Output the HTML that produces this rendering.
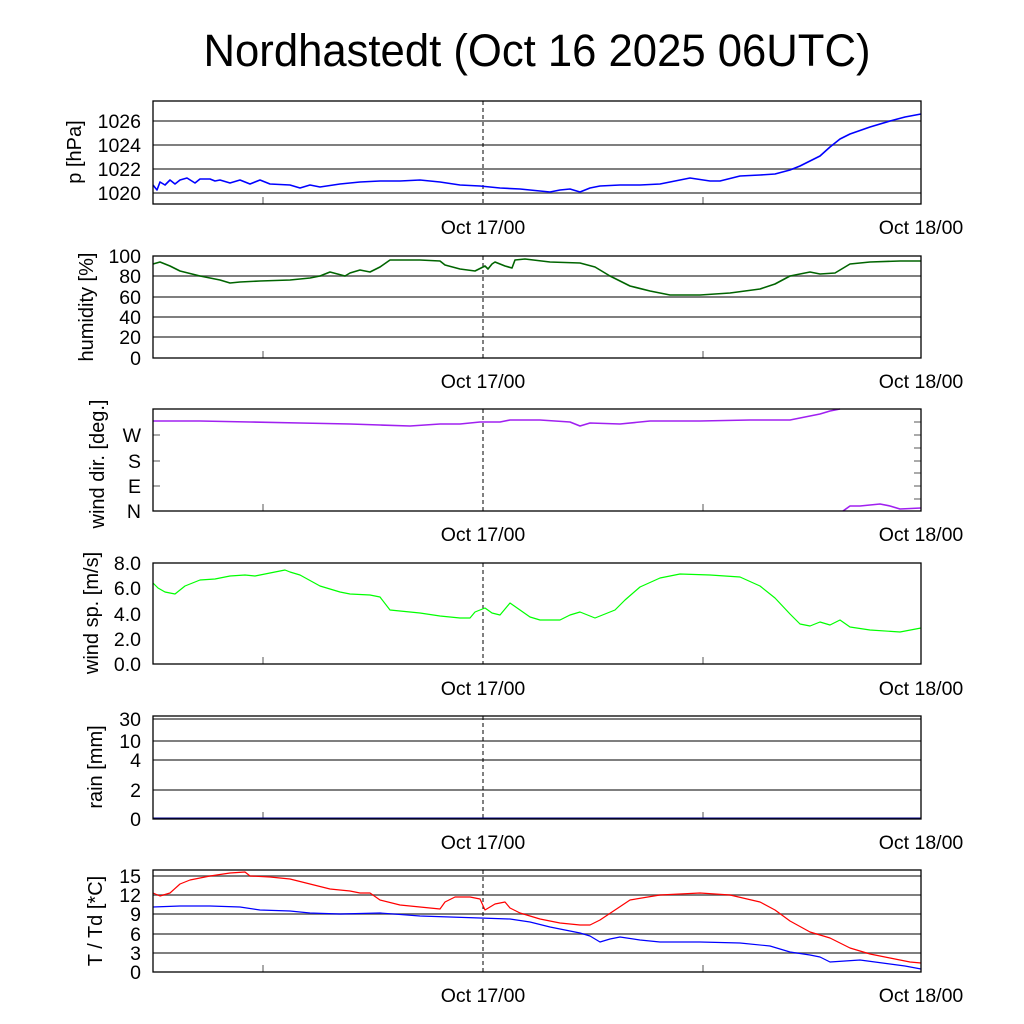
<!DOCTYPE html>
<html><head><meta charset="utf-8"><style>html,body{margin:0;padding:0;background:#fff}svg{display:block}text{font-family:"Liberation Sans",sans-serif;fill:#000}</style></head><body>
<svg width="1024" height="1024" viewBox="0 0 1024 1024" xmlns="http://www.w3.org/2000/svg">
<rect width="1024" height="1024" fill="#fff"/>
<text x="537" y="66" font-size="45" text-anchor="middle" textLength="667" lengthAdjust="spacingAndGlyphs">Nordhastedt (Oct 16 2025 06UTC)</text>

<g stroke="#555" stroke-width="1.5">
<line x1="153" x2="921" y1="121" y2="121"/><line x1="153" x2="921" y1="145" y2="145"/><line x1="153" x2="921" y1="169" y2="169"/><line x1="153" x2="921" y1="193" y2="193"/>
<line x1="153" x2="921" y1="276" y2="276"/><line x1="153" x2="921" y1="297" y2="297"/><line x1="153" x2="921" y1="317" y2="317"/><line x1="153" x2="921" y1="337" y2="337"/>
<line x1="153" x2="921" y1="719" y2="719"/><line x1="153" x2="921" y1="741" y2="741"/><line x1="153" x2="921" y1="760" y2="760"/><line x1="153" x2="921" y1="790" y2="790"/>
<line x1="153" x2="921" y1="876" y2="876"/><line x1="153" x2="921" y1="895" y2="895"/><line x1="153" x2="921" y1="914" y2="914"/><line x1="153" x2="921" y1="934" y2="934"/><line x1="153" x2="921" y1="953" y2="953"/>
</g>
<g stroke="#000" stroke-width="1" stroke-dasharray="4,3">
<line x1="483" x2="483" y1="101" y2="204"/><line x1="483" x2="483" y1="256" y2="358"/><line x1="483" x2="483" y1="409" y2="511"/><line x1="483" x2="483" y1="563" y2="664"/><line x1="483" x2="483" y1="716" y2="819"/><line x1="483" x2="483" y1="870" y2="972"/>
</g>
<g stroke="#555" stroke-width="1">
<line x1="263" x2="263" y1="197" y2="204"/><line x1="703" x2="703" y1="197" y2="204"/>
<line x1="263" x2="263" y1="351" y2="358"/><line x1="703" x2="703" y1="351" y2="358"/>
<line x1="263" x2="263" y1="504" y2="511"/><line x1="703" x2="703" y1="504" y2="511"/>
<line x1="263" x2="263" y1="657" y2="664"/><line x1="703" x2="703" y1="657" y2="664"/>
<line x1="263" x2="263" y1="812" y2="819"/><line x1="703" x2="703" y1="812" y2="819"/>
<line x1="263" x2="263" y1="965" y2="972"/><line x1="703" x2="703" y1="965" y2="972"/>
<line x1="153" x2="160" y1="435" y2="435"/><line x1="153" x2="160" y1="461" y2="461"/><line x1="153" x2="160" y1="486" y2="486"/>
<line x1="914" x2="921" y1="422" y2="422"/><line x1="914" x2="921" y1="435" y2="435"/><line x1="914" x2="921" y1="448" y2="448"/><line x1="914" x2="921" y1="461" y2="461"/><line x1="914" x2="921" y1="473" y2="473"/><line x1="914" x2="921" y1="486" y2="486"/><line x1="914" x2="921" y1="499" y2="499"/>
</g>

<g fill="none" stroke-width="1.6" stroke-linejoin="round">
<polyline stroke="#0000ff" points="153,185 157,190 160,182 165,185 170,180 175,184 180,180 187,178 195,183 200,179 210,179 215,181 220,180 230,183 240,180 250,184 260,180 270,184 290,185 300,188 310,185 320,187 340,184 360,182 380,181 400,181 420,180 440,182 460,185 480,186 500,188 520,189 540,191 550,192 560,190 570,189 580,192 590,188 600,186 620,185 640,185 660,184 670,182 690,178 710,181 720,181 740,176 760,175 775,174 790,170 800,166 810,161 820,156 830,147 840,139 850,134 870,127 890,121 905,117 921,114"/>
<polyline stroke="#006400" points="153,264 160,262 170,266 180,271 200,276 220,280 230,283 240,282 260,281 290,280 310,278 320,276 330,272 345,276 350,273 360,270 370,272 380,267 390,260 420,260 440,261 445,265 460,269 475,271 485,266 488,269 492,264 495,262 505,266 512,268 515,260 525,259 550,262 580,263 595,267 610,276 630,286 650,291 670,295 700,295 730,293 760,289 775,284 790,276 810,272 820,274 835,273 850,264 870,262 900,261 921,261"/>
<polyline stroke="#a020f0" points="153,421 200,421 250,422 300,423 350,424 380,425 410,426 440,424 460,424 480,422 500,422 510,420 540,420 570,422 580,426 590,423 620,424 650,421 700,421 750,420 790,420 810,416 820,414 830,411 840,409"/>
<polyline stroke="#a020f0" points="843,511 850,506 860,506 870,505 880,504 890,506 900,509 921,508"/>
<polyline stroke="#00ff00" stroke-width="1.2" points="153,583 158,588 165,592 175,594 185,586 200,580 215,579 230,576 245,575 255,576 265,574 275,572 285,570 290,572 300,575 320,586 340,592 350,594 370,595 380,597 390,610 420,613 440,616 460,618 470,618 475,612 485,608 492,613 500,615 510,603 520,610 530,617 540,620 560,620 570,615 580,612 595,618 605,614 615,610 625,600 640,587 660,578 680,574 710,575 740,577 760,586 775,598 790,614 800,624 810,626 820,622 830,625 840,620 850,627 870,630 900,632 921,628"/>
<line x1="153" x2="921" y1="818.5" y2="818.5" stroke="#00008b" stroke-width="2"/>
<polyline stroke="#ff0000" stroke-width="1.2" points="153,893 160,896 170,893 180,884 190,880 210,876 230,873 245,872 250,876 270,877 290,879 310,884 330,889 350,891 360,893 370,893 380,900 400,905 420,907 440,909 445,902 455,897 470,897 480,899 485,910 495,904 505,902 510,908 520,913 540,919 560,923 580,925 590,925 600,920 615,910 630,900 660,895 700,893 730,895 760,902 775,910 790,921 810,932 830,938 850,948 870,954 890,958 910,962 921,963"/>
<polyline stroke="#0000ff" stroke-width="1.2" points="153,907 180,906 210,906 240,907 260,910 290,911 310,913 340,914 380,913 420,916 450,917 480,918 510,919 530,922 550,927 580,933 590,936 600,942 610,939 620,937 640,940 660,942 700,942 740,943 770,946 790,952 810,955 820,957 830,962 845,961 860,960 875,962 890,964 905,966 921,969"/>
</g>

<g fill="none" stroke="#000" stroke-width="1.3">
<rect x="153" y="101" width="768" height="103"/>
<rect x="153" y="256" width="768" height="102"/>
<rect x="153" y="409" width="768" height="102"/>
<rect x="153" y="563" width="768" height="101"/>
<rect x="153" y="716" width="768" height="103"/>
<rect x="153" y="870" width="768" height="102"/>
</g>

<g font-size="19.5" text-anchor="end">
<text x="141" y="128">1026</text><text x="141" y="152">1024</text><text x="141" y="176">1022</text><text x="141" y="200">1020</text>
<text x="141" y="263">100</text><text x="141" y="283">80</text><text x="141" y="304">60</text><text x="141" y="324">40</text><text x="141" y="344">20</text><text x="141" y="365">0</text>
<text x="141" y="442">W</text><text x="141" y="468">S</text><text x="141" y="493">E</text><text x="141" y="518">N</text>
<text x="141" y="570">8.0</text><text x="141" y="595">6.0</text><text x="141" y="621">4.0</text><text x="141" y="646">2.0</text><text x="141" y="671">0.0</text>
<text x="141" y="726">30</text><text x="141" y="748">10</text><text x="141" y="767">4</text><text x="141" y="797">2</text><text x="141" y="826">0</text>
<text x="141" y="883">15</text><text x="141" y="902">12</text><text x="141" y="921">9</text><text x="141" y="941">6</text><text x="141" y="960">3</text><text x="141" y="979">0</text>
</g>
<g font-size="19.5" text-anchor="middle">
<text x="483" y="234">Oct 17/00</text><text x="921" y="234">Oct 18/00</text>
<text x="483" y="388">Oct 17/00</text><text x="921" y="388">Oct 18/00</text>
<text x="483" y="541">Oct 17/00</text><text x="921" y="541">Oct 18/00</text>
<text x="483" y="695">Oct 17/00</text><text x="921" y="695">Oct 18/00</text>
<text x="483" y="849">Oct 17/00</text><text x="921" y="849">Oct 18/00</text>
<text x="483" y="1002">Oct 17/00</text><text x="921" y="1002">Oct 18/00</text>
</g>
<g font-size="20" text-anchor="middle">
<text transform="translate(81,152) rotate(-90)">p [hPa]</text>
<text transform="translate(93,307) rotate(-90)">humidity [%]</text>
<text transform="translate(104,464) rotate(-90)">wind dir. [deg.]</text>
<text transform="translate(98,613) rotate(-90)">wind sp. [m/s]</text>
<text transform="translate(102,767) rotate(-90)">rain [mm]</text>
<text transform="translate(102,921) rotate(-90)">T / Td [*C]</text>
</g>
</svg>
</body></html>
